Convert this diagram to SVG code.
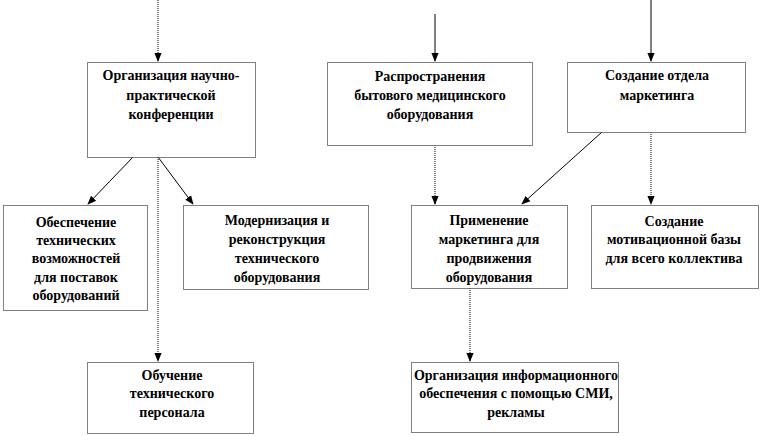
<svg xmlns="http://www.w3.org/2000/svg" width="762" height="436" viewBox="0 0 762 436">
<style>
.box{fill:#fff;stroke:#000;stroke-width:1;stroke-dasharray:1 1}
.t{font-family:"Liberation Serif","Times New Roman",serif;font-weight:bold;font-size:14px;fill:#000;text-anchor:middle}
.c{stroke:#000;stroke-width:1;fill:none;marker-end:url(#ah)}
.d{stroke-dasharray:1 1}
</style>
<defs>
<marker id="ah" viewBox="0 0 10 10" refX="9" refY="5" markerWidth="9" markerHeight="9" markerUnits="userSpaceOnUse" orient="auto">
<path d="M0,1 L10,5 L0,9 z" fill="#000"/>
</marker>
</defs>
<rect width="762" height="436" fill="#fff"/>
<g id="connectors">
<line class="c d" x1="158" y1="0" x2="158" y2="61"/>
<line class="c" x1="435" y1="14" x2="435" y2="61"/>
<line class="c" x1="651" y1="0" x2="651" y2="61"/>
<line class="c" x1="133" y1="157" x2="88" y2="204"/>
<line class="c" x1="158" y1="157" x2="193" y2="204"/>
<line class="c d" x1="158" y1="157" x2="158" y2="361"/>
<line class="c d" x1="435" y1="145" x2="435" y2="204"/>
<line class="c" x1="602" y1="132" x2="522" y2="204"/>
<line class="c d" x1="651" y1="132" x2="651" y2="204"/>
<line class="c d" x1="470" y1="288" x2="470" y2="361"/>
</g>
<g id="n1"><rect class="box" x="87.5" y="62.5" width="168" height="95"/>
<text class="t" x="171" y="80">Организация научно-</text><text class="t" x="171" y="100">практической</text><text class="t" x="171" y="119">конференции</text></g>
<g id="n2"><rect class="box" x="327.5" y="62.5" width="205" height="83"/>
<text class="t" x="430" y="81">Распространения</text><text class="t" x="430" y="100">бытового медицинского</text><text class="t" x="430" y="119">оборудования</text></g>
<g id="n3"><rect class="box" x="567.5" y="62.5" width="178" height="70"/>
<text class="t" x="657" y="80">Создание отдела</text><text class="t" x="657" y="100">маркетинга</text></g>
<g id="n4"><rect class="box" x="3.5" y="205.5" width="144" height="105"/>
<text class="t" x="76" y="227">Обеспечение</text><text class="t" x="76" y="245">технических</text><text class="t" x="76" y="263">возможностей</text><text class="t" x="76" y="282">для поставок</text><text class="t" x="76" y="300">оборудований</text></g>
<g id="n5"><rect class="box" x="183.5" y="205.5" width="185" height="84"/>
<text class="t" x="277" y="225">Модернизация и</text><text class="t" x="277" y="244">реконструкция</text><text class="t" x="277" y="263">технического</text><text class="t" x="277" y="282">оборудования</text></g>
<g id="n6"><rect class="box" x="411.5" y="205.5" width="156" height="83"/>
<text class="t" x="489" y="225">Применение</text><text class="t" x="489" y="244">маркетинга для</text><text class="t" x="489" y="263">продвижения</text><text class="t" x="489" y="282">оборудования</text></g>
<g id="n7"><rect class="box" x="591.5" y="205.5" width="167" height="83"/>
<text class="t" x="674" y="226">Создание</text><text class="t" x="674" y="244">мотивационной базы</text><text class="t" x="674" y="263">для всего коллектива</text></g>
<g id="n8"><rect class="box" x="87.5" y="362.5" width="166" height="71"/>
<text class="t" x="172" y="380">Обучение</text><text class="t" x="172" y="398">технического</text><text class="t" x="172" y="417">персонала</text></g>
<g id="n9"><rect class="box" x="411.5" y="362.5" width="207" height="70"/>
<text class="t" x="516" y="380">Организация информационного</text><text class="t" x="516" y="398">обеспечения с помощью СМИ,</text><text class="t" x="516" y="417">рекламы</text></g>
</svg>
